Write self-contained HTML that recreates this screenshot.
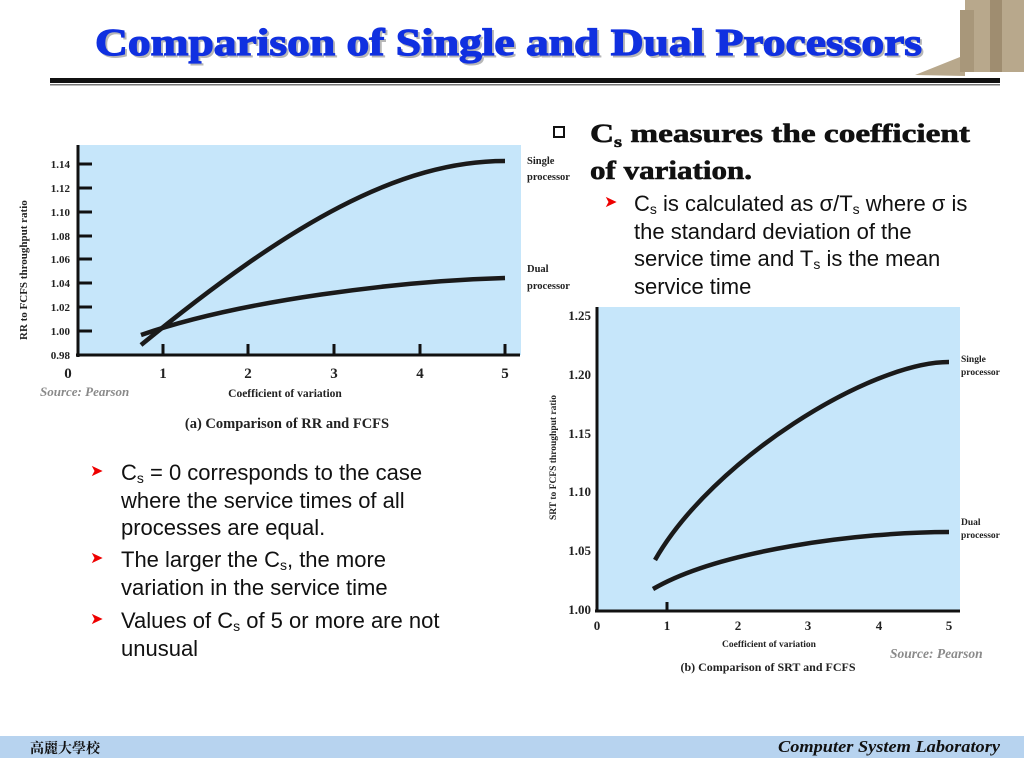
<!DOCTYPE html>
<html><head><meta charset="utf-8"><style>
body{margin:0;width:1024px;height:768px;background:#fff;overflow:hidden;position:relative;font-family:"Liberation Sans",sans-serif}
.t{position:absolute;font-size:22px;line-height:27.5px;color:#111;white-space:nowrap}
sub{font-size:14px;vertical-align:-3px;line-height:0}
.ar{position:absolute;color:#e00;font-size:16px}
</style></head><body>
<svg width="1024" height="768" style="position:absolute;left:0;top:0">
<g fill="#b8a88c">
<rect x="965" y="0" width="59" height="72"/>
<polygon points="915,75 965,55 965,76"/>
<rect x="960" y="10" width="14" height="62" fill="#a8977a"/>
<rect x="990" y="0" width="12" height="72" fill="#9f8d70"/>
</g>
<text x="95" y="55" textLength="827" lengthAdjust="spacingAndGlyphs" font-family="Liberation Serif,serif" font-weight="bold" font-size="38" fill="#888" opacity=".6" transform="translate(2,2)" stroke="#888" stroke-width="1">Comparison of Single and Dual Processors</text>
<text x="95" y="55" textLength="827" lengthAdjust="spacingAndGlyphs" font-family="Liberation Serif,serif" font-weight="bold" font-size="38" fill="#1030e0" stroke="#1030e0" stroke-width="1.2">Comparison of Single and Dual Processors</text>
<rect x="50" y="78" width="950" height="5" fill="#111"/>
<rect x="50" y="84" width="950" height="1.5" fill="#777"/>

<rect x="78" y="145" width="443" height="210" fill="#c6e6fa"/>
<g stroke="#111" stroke-width="3">
<line x1="78" y1="145" x2="78" y2="357"/><line x1="76" y1="355" x2="520" y2="355"/>
<line x1="78" y1="164" x2="92" y2="164"/><line x1="78" y1="188" x2="92" y2="188"/><line x1="78" y1="212" x2="92" y2="212"/><line x1="78" y1="236" x2="92" y2="236"/><line x1="78" y1="259" x2="92" y2="259"/><line x1="78" y1="283" x2="92" y2="283"/><line x1="78" y1="307" x2="92" y2="307"/><line x1="78" y1="331" x2="92" y2="331"/>
<line x1="163" y1="344" x2="163" y2="355"/><line x1="248" y1="344" x2="248" y2="355"/><line x1="334" y1="344" x2="334" y2="355"/><line x1="420" y1="344" x2="420" y2="355"/><line x1="505" y1="344" x2="505" y2="355"/>
</g>
<g font-family="Liberation Serif,serif" font-weight="bold" font-size="11" fill="#222" text-anchor="end">
<text x="70" y="168">1.14</text><text x="70" y="192">1.12</text><text x="70" y="216">1.10</text><text x="70" y="240">1.08</text><text x="70" y="263">1.06</text><text x="70" y="287">1.04</text><text x="70" y="311">1.02</text><text x="70" y="335">1.00</text><text x="70" y="359">0.98</text>
</g>
<g font-family="Liberation Serif,serif" font-weight="bold" font-size="15" fill="#222" text-anchor="middle">
<text x="68" y="378">0</text><text x="163" y="378">1</text><text x="248" y="378">2</text><text x="334" y="378">3</text><text x="420" y="378">4</text><text x="505" y="378">5</text>
</g>
<text x="285" y="397" text-anchor="middle" font-family="Liberation Serif,serif" font-weight="bold" font-size="11.5" fill="#222">Coefficient of variation</text>
<text x="287" y="428" text-anchor="middle" font-family="Liberation Serif,serif" font-weight="bold" font-size="14.5" fill="#222">(a) Comparison of RR and FCFS</text>
<text x="40" y="396" font-family="Liberation Serif,serif" font-style="italic" font-weight="bold" font-size="13" fill="#8a8a8a">Source: Pearson</text>
<text transform="translate(27,340) rotate(-90)" font-family="Liberation Serif,serif" font-weight="bold" font-size="11" fill="#222">RR to FCFS throughput ratio</text>
<g font-family="Liberation Serif,serif" font-weight="bold" font-size="10.5" fill="#222">
<text x="527" y="164">Single</text><text x="527" y="180">processor</text>
<text x="527" y="272">Dual</text><text x="527" y="289">processor</text>
</g>
<g fill="none" stroke="#1a1a1a" stroke-width="4.5">
<path d="M141,345 C291,222 400,161 505,161"/>
<path d="M141,335 C241,300 400,281 505,278"/>
</g>

<rect x="597" y="307" width="363" height="304" fill="#c6e6fa"/>
<g stroke="#111" stroke-width="3">
<line x1="597" y1="307" x2="597" y2="612"/><line x1="595" y1="611" x2="960" y2="611"/>
<line x1="667" y1="602" x2="667" y2="611"/>
</g>
<g font-family="Liberation Serif,serif" font-weight="bold" font-size="13" fill="#222" text-anchor="end">
<text x="591" y="320">1.25</text><text x="591" y="379">1.20</text><text x="591" y="438">1.15</text><text x="591" y="496">1.10</text><text x="591" y="555">1.05</text><text x="591" y="614">1.00</text>
</g>
<g font-family="Liberation Serif,serif" font-weight="bold" font-size="13" fill="#222" text-anchor="middle">
<text x="597" y="630">0</text><text x="667" y="630">1</text><text x="738" y="630">2</text><text x="808" y="630">3</text><text x="879" y="630">4</text><text x="949" y="630">5</text>
</g>
<text x="769" y="647" text-anchor="middle" font-family="Liberation Serif,serif" font-weight="bold" font-size="9.5" fill="#222">Coefficient of variation</text>
<text x="768" y="671" text-anchor="middle" font-family="Liberation Serif,serif" font-weight="bold" font-size="12" fill="#222">(b) Comparison of SRT and FCFS</text>
<text x="890" y="658" font-family="Liberation Serif,serif" font-style="italic" font-weight="bold" font-size="13.5" fill="#8a8a8a">Source: Pearson</text>
<text transform="translate(556,520) rotate(-90)" font-family="Liberation Serif,serif" font-weight="bold" font-size="9.5" fill="#222">SRT to FCFS throughput ratio</text>
<g font-family="Liberation Serif,serif" font-weight="bold" font-size="9.5" fill="#222">
<text x="961" y="362">Single</text><text x="961" y="375">processor</text>
<text x="961" y="525">Dual</text><text x="961" y="538">processor</text>
</g>
<g fill="none" stroke="#1a1a1a" stroke-width="4.5">
<path d="M655,560 C712,460 870,362 949,362"/>
<path d="M653,589 C720,550 860,532 949,532"/>
</g>

<text x="590" y="142" textLength="380" lengthAdjust="spacingAndGlyphs" font-family="Liberation Serif,serif" font-weight="bold" font-size="26" fill="#111" stroke="#111" stroke-width=".6">C<tspan font-size="16" dy="5">s</tspan><tspan dy="-5"> measures the coefficient</tspan></text>
<text x="590" y="179" textLength="162" lengthAdjust="spacingAndGlyphs" font-family="Liberation Serif,serif" font-weight="bold" font-size="26" fill="#111" stroke="#111" stroke-width=".6">of variation.</text>

<rect x="0" y="736" width="1024" height="22" fill="#b7d3ef"/>
<text x="30" y="753" font-family="Noto Serif CJK SC,serif" font-weight="bold" font-size="14" fill="#111">高麗大學校</text>
<text x="778" y="752" textLength="222" lengthAdjust="spacingAndGlyphs" font-family="Liberation Serif,serif" font-style="italic" font-weight="bold" font-size="17" fill="#111">Computer System Laboratory</text>
</svg>

<div style="position:absolute;left:553px;top:126px;width:12px;height:12px;border:2px solid #111;box-sizing:border-box"></div>
<div class="ar" style="left:604px;top:192px">&#10148;</div>
<div class="t" style="left:634px;top:190px">C<sub>s</sub> is calculated as σ/T<sub>s</sub> where σ is<br>the standard deviation of the<br>service time and T<sub>s</sub> is the mean<br>service time</div>

<div class="ar" style="left:90px;top:461px">&#10148;</div>
<div class="t" style="left:121px;top:459px">C<sub>s</sub> = 0 corresponds to the case<br>where the service times of all<br>processes are equal.</div>
<div class="ar" style="left:90px;top:548px">&#10148;</div>
<div class="t" style="left:121px;top:546px">The larger the C<sub>s</sub>, the more<br>variation in the service time</div>
<div class="ar" style="left:90px;top:609px">&#10148;</div>
<div class="t" style="left:121px;top:607px">Values of C<sub>s</sub> of 5 or more are not<br>unusual</div>
</body></html>
